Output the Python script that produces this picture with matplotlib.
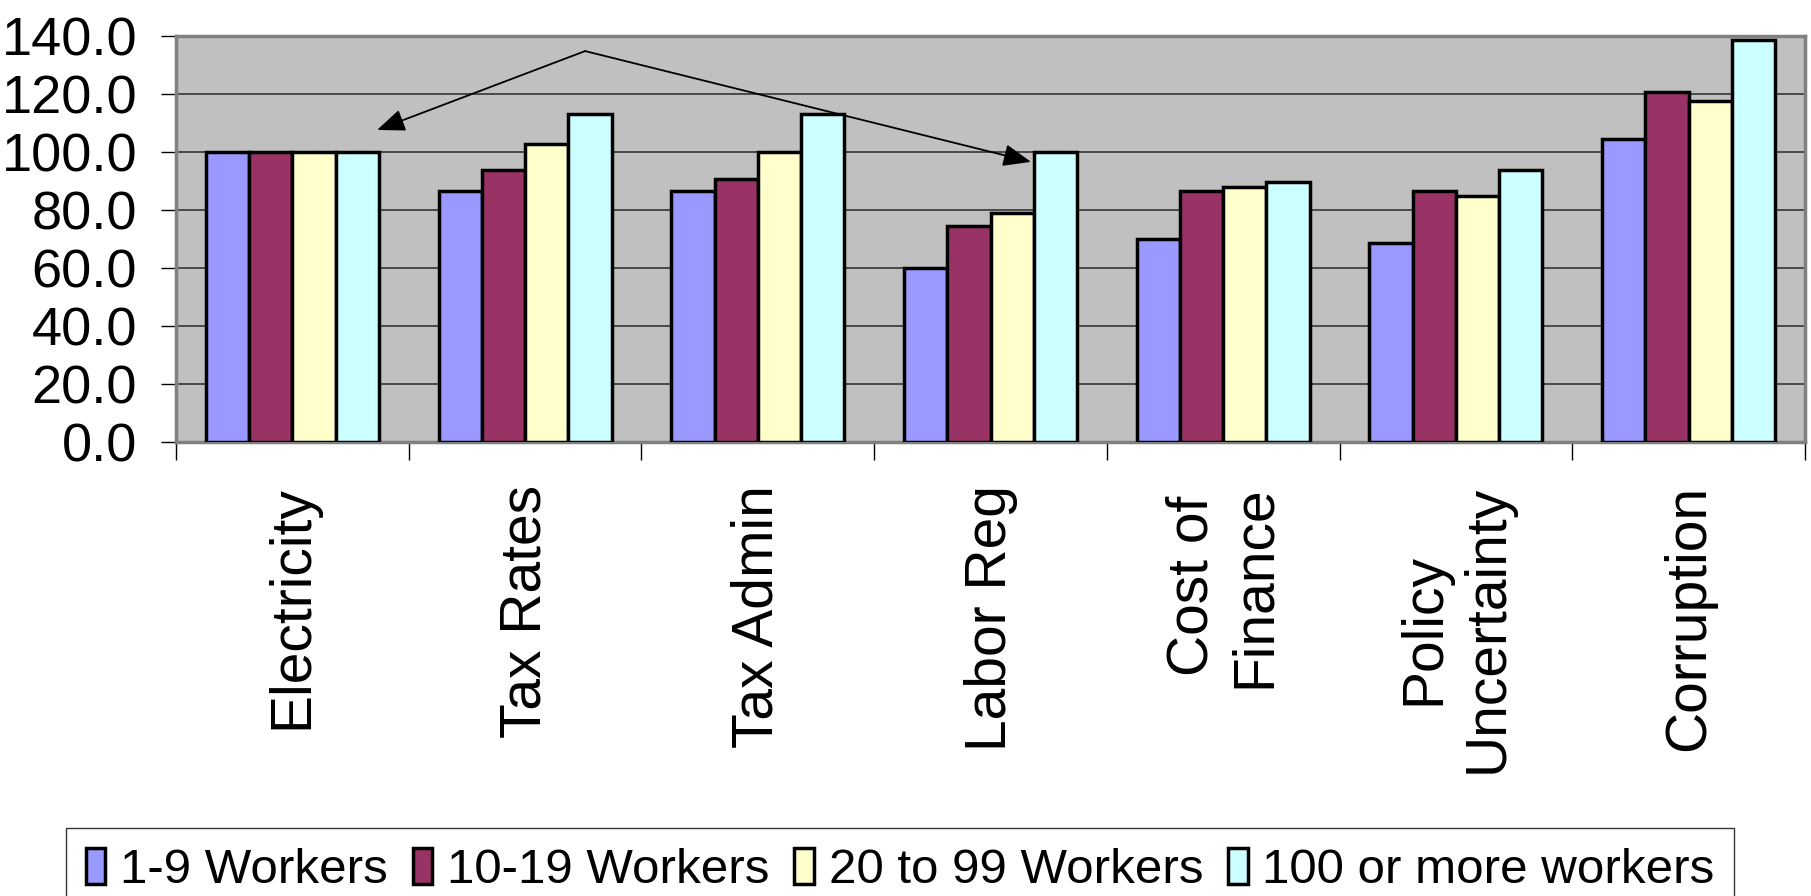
import matplotlib
matplotlib.use('Agg')
import matplotlib.pyplot as plt
import numpy as np

plt.rcParams['font.family'] = ['Liberation Sans', 'DejaVu Sans']

categories = ['Electricity', 'Tax Rates', 'Tax Admin', 'Labor Reg',
              'Cost of\nFinance', 'Policy\nUncertainty', 'Corruption']
series = ['1-9 Workers', '10-19 Workers', '20 to 99 Workers', '100 or more workers']
workers_1_9 = [100.0, 86.5, 86.5, 60.0, 70.0, 68.7, 104.4]
workers_10_19 = [100.0, 93.9, 90.8, 74.4, 86.5, 86.5, 120.6]
workers_20_99 = [100.0, 102.8, 100.0, 79.0, 87.9, 84.9, 117.7]
workers_100 = [100.0, 113.1, 113.1, 100.0, 89.5, 93.9, 138.5]
colors = ['#9999FF', '#993366', '#FFFFCC', '#CCFFFF']

yticks = np.arange(0, 141, 20)

fig = plt.figure(figsize=(18.11, 8.96), dpi=100)
ax = fig.add_axes([176/1811, 1-442/896, (1805-176)/1811, (442-36)/896])
ax.set_facecolor('#C0C0C0')

x = np.arange(len(categories))
w = 0.186
data = [workers_1_9, workers_10_19, workers_20_99, workers_100]
for i, (vals, c, name) in enumerate(zip(data, colors, series)):
    ax.bar(x + (i - 1.5) * w, vals, width=w, color=c, edgecolor='black',
           linewidth=2.5, label=name, zorder=3)

ax.set_xlim(-0.5, len(categories) - 0.5)
ax.set_ylim(0, 140)
ax.set_yticks(yticks)
ax.set_yticklabels(['%.1f' % v for v in yticks], fontsize=39)
ax.yaxis.grid(True, color='#404040', linewidth=1.3, zorder=1)
ax.set_axisbelow(True)

ax.set_xticks(x)
ax.set_xticklabels(categories, rotation=90, fontsize=41, va='top', ha='center')
ax.set_xticks(np.arange(-0.5, len(categories)), minor=True)
ax.tick_params(axis='x', which='major', length=0, pad=31)
ax.tick_params(axis='x', which='minor', length=13, width=1, color='black')
ax.tick_params(axis='y', length=11, width=1, color='black', pad=17)

for s in ax.spines.values():
    s.set_color('#808080')
    s.set_linewidth(2.5)

# two arrows from one point
apex = (1.258, 134.8)
for tip in [(0.364, 107.6), (3.174, 96.6)]:
    ax.annotate('', xy=tip, xytext=apex,
                arrowprops=dict(arrowstyle='-|>,head_length=0.45,head_width=0.18',
                                mutation_scale=38, color='black', lw=1.3,
                                shrinkA=0, shrinkB=0), zorder=5)

fig.legend(loc='upper left', bbox_to_anchor=(66/1811, 1-828/896), ncol=4,
           fontsize=35.5, frameon=True, fancybox=False, edgecolor='black',
           borderaxespad=0, borderpad=0.4, handlelength=0.4, handleheight=0.75,
           handletextpad=0.3, columnspacing=0.5)

fig.savefig('out.png', dpi=100)
